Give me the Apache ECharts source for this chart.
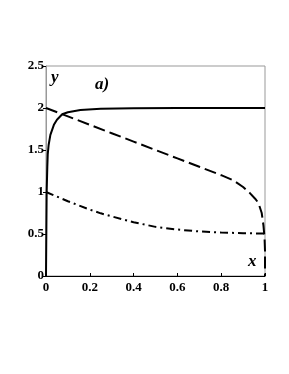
<!DOCTYPE html>
<html>
<head>
<meta charset="utf-8">
<script src="https://cdn.jsdelivr.net/npm/echarts@6/dist/echarts.min.js"></script>
<style>html,body{margin:0;padding:0;background:#fff;}#c{width:289px;height:374px;}</style>
</head>
<body>
<div id="c"></div>
<script>
var xTicks = [0, 0.2, 0.4, 0.6, 0.8, 1];
var yTicks = [0, 0.5, 1, 1.5, 2, 2.5];
var solidX = [0, 0.003, 0.006, 0.008, 0.012, 0.02, 0.036, 0.05, 0.074, 0.1, 0.157, 0.25, 0.4, 0.6, 1];
var solidY = [0, 1.0, 1.3, 1.45, 1.56, 1.68, 1.8, 1.86, 1.925, 1.95, 1.975, 1.99, 1.998, 2, 2];
var dashedX = [0, 0.1, 0.2, 0.3, 0.4, 0.5, 0.6, 0.7, 0.8, 0.855, 0.9, 0.93, 0.955, 0.97, 0.985, 0.993, 0.998, 1, 1];
var dashedY = [2, 1.9, 1.8, 1.7, 1.6, 1.5, 1.4, 1.3, 1.2, 1.14, 1.06, 0.99, 0.92, 0.87, 0.75, 0.6, 0.45, 0.3, 0];
var dashDotX = [0, 0.1, 0.2, 0.25, 0.3, 0.4, 0.5, 0.6, 0.7, 0.8, 0.9, 1];
var dashDotY = [1, 0.89, 0.79, 0.746, 0.71, 0.64, 0.585, 0.553, 0.53, 0.517, 0.51, 0.505];

function pairs(xs, ys) { return xs.map(function (x, i) { return [x, ys[i]]; }); }

var font = 'Liberation Serif';
var chart = echarts.init(document.getElementById('c'));
chart.setOption({
  animation: false,
  backgroundColor: '#fff',
  grid: { left: 46, right: 24, top: 66, bottom: 98, show: true, borderColor: '#999', borderWidth: 1, backgroundColor: 'transparent' },
  xAxis: {
    type: 'value', min: xTicks[0], max: xTicks[xTicks.length - 1], interval: 0.2,
    axisLine: { show: true, onZero: false, lineStyle: { color: '#000', width: 1 } },
    axisTick: { show: true, inside: true, length: 3, lineStyle: { color: '#000' } },
    splitLine: { show: false },
    axisLabel: { fontFamily: font, fontWeight: 'bold', fontSize: 13, color: '#000', margin: 5 }
  },
  yAxis: {
    type: 'value', min: yTicks[0], max: yTicks[yTicks.length - 1], interval: 0.5,
    axisLine: { show: true, onZero: false, lineStyle: { color: '#999', width: 1 } },
    axisTick: { show: true, inside: false, length: 3, lineStyle: { color: '#000' } },
    splitLine: { show: false },
    axisLabel: { fontFamily: font, fontWeight: 'bold', fontSize: 13, color: '#000', margin: 2 }
  },
  series: [
    { type: 'line', data: pairs(solidX, solidY), showSymbol: false, lineStyle: { color: '#000', width: 2 }, z: 3 },
    { type: 'line', data: pairs(dashedX, dashedY), showSymbol: false, lineStyle: { color: '#000', width: 2, type: [12, 5] }, z: 3 },
    { type: 'line', data: pairs(dashDotX, dashDotY), showSymbol: false, lineStyle: { color: '#000', width: 2, type: [8, 4, 2, 4] }, z: 3 }
  ],
  graphic: [
    { type: 'text', left: 51, top: 69, style: { text: 'y', font: 'italic bold 17px "Liberation Serif"', fill: '#000' } },
    { type: 'text', left: 95, top: 76, style: { text: 'a)', font: 'italic bold 17px "Liberation Serif"', fill: '#000' } },
    { type: 'text', left: 248, top: 253, style: { text: 'x', font: 'italic bold 17px "Liberation Serif"', fill: '#000' } }
  ]
});
</script>
</body>
</html>
